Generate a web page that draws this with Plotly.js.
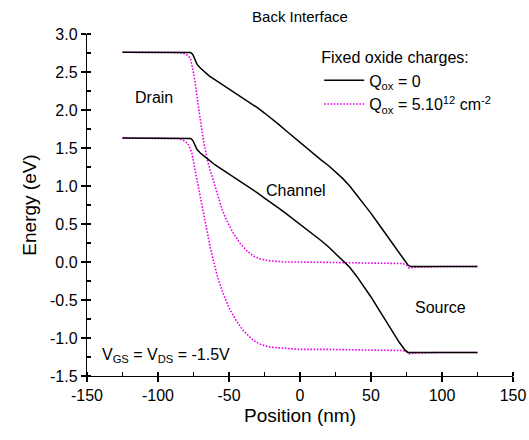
<!DOCTYPE html>
<html>
<head>
<meta charset="utf-8">
<script src="https://cdn.plot.ly/plotly-3.0.1.min.js"></script>
<style>html,body{margin:0;padding:0;background:#fff;}#chart{width:529px;height:440px;}</style>
</head>
<body>
<div id="chart"></div>
<script>
// Qox = 0 : upper band
const posUpper0 = [-125, -100, -80, -77, -75.5, -74, -72.5, -70, -67, -64, -60, -55, -50, -45, -40, -35, -30, -25, -20, -15, -10, -5, 0, 5, 10, 15, 20, 25, 30, 35, 40, 45, 50, 55, 60, 65, 70, 74, 76, 78, 100, 125];
const eUpper0   = [2.76, 2.76, 2.76, 2.755, 2.73, 2.66, 2.60, 2.55, 2.50, 2.45, 2.40, 2.34, 2.28, 2.22, 2.16, 2.10, 2.03, 1.96, 1.89, 1.81, 1.73, 1.65, 1.57, 1.49, 1.42, 1.34, 1.27, 1.19, 1.10, 1.00, 0.885, 0.765, 0.64, 0.51, 0.38, 0.25, 0.12, 0.01, -0.04, -0.06, -0.06, -0.06];
// Qox = 0 : lower band
const posLower0 = [-125, -100, -80, -77, -75.5, -74, -72.5, -70, -67, -64, -60, -55, -50, -45, -40, -35, -30, -25, -20, -15, -10, -5, 0, 5, 10, 15, 20, 25, 30, 35, 40, 45, 50, 55, 60, 65, 70, 74, 76, 78, 100, 125];
const eLower0   = [1.63, 1.63, 1.63, 1.625, 1.60, 1.53, 1.48, 1.43, 1.38, 1.34, 1.28, 1.22, 1.16, 1.09, 1.03, 0.97, 0.91, 0.84, 0.78, 0.71, 0.64, 0.57, 0.50, 0.43, 0.36, 0.28, 0.20, 0.11, 0.03, -0.07, -0.19, -0.32, -0.46, -0.61, -0.76, -0.91, -1.06, -1.16, -1.19, -1.19, -1.19, -1.19];
// Qox = 5e12 : upper band
const posUpperQ = [-125, -100, -85, -81, -78.5, -77, -75.5, -74, -72, -70, -68, -65, -61, -58, -55, -52, -47, -42, -37, -33, -28, -21, -10, 0, 20, 40, 60, 72, 75, 77, 80, 100, 125];
const eUpperQ   = [2.76, 2.76, 2.755, 2.74, 2.71, 2.67, 2.55, 2.39, 2.10, 1.85, 1.60, 1.32, 1.06, 0.87, 0.70, 0.56, 0.38, 0.24, 0.14, 0.08, 0.04, 0.015, 0.0, 0.0, -0.005, -0.01, -0.01, -0.02, -0.04, -0.08, -0.07, -0.06, -0.06];
// Qox = 5e12 : lower band
const posLowerQ = [-125, -100, -86, -82, -79, -77.5, -76, -74, -72, -70, -68, -66, -63.5, -61, -58, -54, -50, -45, -40, -33, -27, -21, -10, 0, 20, 40, 60, 72, 75, 77, 80, 100, 125];
const eLowerQ   = [1.63, 1.63, 1.625, 1.60, 1.56, 1.50, 1.42, 1.22, 1.02, 0.84, 0.65, 0.45, 0.22, 0.02, -0.20, -0.42, -0.60, -0.77, -0.90, -1.03, -1.09, -1.12, -1.14, -1.15, -1.15, -1.155, -1.16, -1.165, -1.18, -1.21, -1.20, -1.19, -1.19];

const seriesNames = ['Q<sub>ox</sub> = 0', 'Q<sub>ox</sub> = 5.10<sup>12</sup> cm<sup>-2</sup>'];
const regionLabels = ['Drain', 'Channel', 'Source'];
const regionPos = [-103, -3, 99];
const regionE = [2.17, 0.94, -0.60];
const biasLabel = 'V<sub>GS</sub> = V<sub>DS</sub> = -1.5V';
const xTickVals = [-150, -100, -50, 0, 50, 100, 150];
const xTickText = ['-150', '-100', '-50', '0', '50', '100', '150'];
const yTickVals = [-1.5, -1.0, -0.5, 0.0, 0.5, 1.0, 1.5, 2.0, 2.5, 3.0];
const yTickText = ['-1.5', '-1.0', '-0.5', '0.0', '0.5', '1.0', '1.5', '2.0', '2.5', '3.0'];

const FONT = 'Liberation Sans, Arial, sans-serif';
const blackLine = {color: '#000000', width: 1.5};
const magLine = {color: '#ee00ee', width: 1.6, dash: '1.6px,1.6px'};

const traces = [
  {x: posUpperQ, y: eUpperQ, mode: 'lines', line: magLine, name: seriesNames[1], legendgroup: 'q', showlegend: true, legendrank: 2},
  {x: posLowerQ, y: eLowerQ, mode: 'lines', line: magLine, name: seriesNames[1], legendgroup: 'q', showlegend: false},
  {x: posUpper0, y: eUpper0, mode: 'lines', line: blackLine, name: seriesNames[0], legendgroup: 'z', showlegend: true, legendrank: 1},
  {x: posLower0, y: eLower0, mode: 'lines', line: blackLine, name: seriesNames[0], legendgroup: 'z', showlegend: false}
];

const annotations = regionLabels.map((t, i) => ({
  x: regionPos[i], y: regionE[i], xref: 'x', yref: 'y', text: t, showarrow: false,
  font: {family: FONT, size: 16, color: '#000'}
}));
annotations.push({x: -141, y: -1.23, xref: 'x', yref: 'y', xanchor: 'left', text: biasLabel, showarrow: false,
  font: {family: FONT, size: 16, color: '#000'}});

const tickStyle = {tickwidth: 1.2, tickcolor: '#000'};
const layout = {
  width: 529, height: 440,
  margin: {l: 87, r: 16, t: 34, b: 64},
  paper_bgcolor: '#fff', plot_bgcolor: '#fff',
  font: {family: FONT, color: '#000', size: 14},
  title: {text: 'Back Interface', xref: 'paper', x: 0.5, xanchor: 'center', y: 0.962, yanchor: 'middle', font: {family: FONT, size: 15}},
  showlegend: true,
  legend: {
    x: 0.545, y: 0.975, xanchor: 'left', yanchor: 'top',
    bgcolor: 'rgba(0,0,0,0)', borderwidth: 0,
    font: {family: FONT, size: 16},
    title: {text: 'Fixed oxide charges:', side: 'top', font: {family: FONT, size: 16}},
    traceorder: 'normal', itemwidth: 40, tracegroupgap: 0
  },
  xaxis: Object.assign({
    range: [-150, 150], tickmode: 'array', tickvals: xTickVals, ticktext: xTickText,
    showgrid: false, zeroline: false,
    showline: true, linecolor: '#000', linewidth: 1.2,
    ticks: 'outside', ticklen: 5,
    minor: {tickmode: 'linear', tick0: 0, dtick: 25, ticks: 'inside', ticklen: 4, tickwidth: 1.2, tickcolor: '#000'},
    tickfont: {family: FONT, size: 16},
    title: {text: 'Position (nm)', font: {family: FONT, size: 19}, standoff: 5}
  }, tickStyle),
  yaxis: Object.assign({
    range: [-1.5, 3.0], tickmode: 'array', tickvals: yTickVals, ticktext: yTickText,
    showgrid: false, zeroline: false,
    showline: true, linecolor: '#000', linewidth: 1.2,
    ticks: 'outside', ticklen: 5,
    minor: {tickmode: 'linear', tick0: 0, dtick: 0.25, ticks: 'inside', ticklen: 4, tickwidth: 1.2, tickcolor: '#000'},
    tickfont: {family: FONT, size: 16},
    title: {text: 'Energy (eV)', font: {family: FONT, size: 19}, standoff: 8}
  }, tickStyle),
  xaxis2: Object.assign({
    overlaying: 'x', side: 'top', anchor: 'y', range: [-150, 150], dtick: 50, tick0: 0,
    showgrid: false, zeroline: false, showticklabels: false,
    showline: true, linecolor: '#000', linewidth: 1.2,
    ticks: 'inside', ticklen: 4,
    minor: {dtick: 25, ticks: 'inside', ticklen: 4, tickwidth: 1.2, tickcolor: '#000'}
  }, tickStyle),
  yaxis2: Object.assign({
    overlaying: 'y', side: 'right', anchor: 'x', range: [-1.5, 3.0], dtick: 0.5, tick0: 0,
    showgrid: false, zeroline: false, showticklabels: false,
    showline: true, linecolor: '#000', linewidth: 1.2,
    ticks: 'inside', ticklen: 4,
    minor: {dtick: 0.25, ticks: 'inside', ticklen: 4, tickwidth: 1.2, tickcolor: '#000'}
  }, tickStyle),
  annotations: annotations
};

Plotly.newPlot('chart', traces, layout, {displayModeBar: false, staticPlot: true});
</script>
</body>
</html>
